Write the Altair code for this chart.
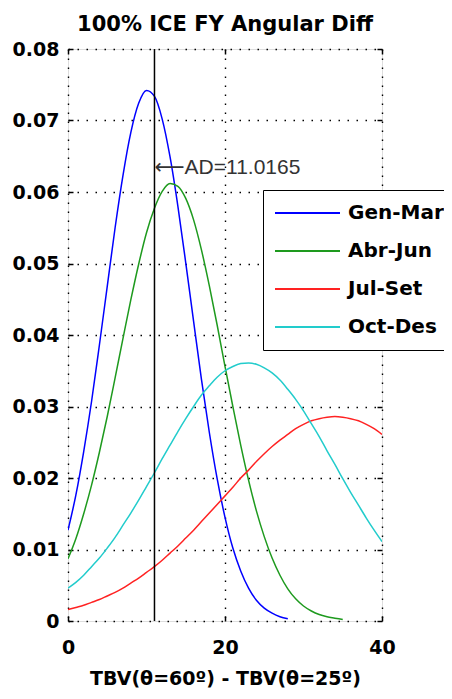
import altair as alt
import pandas as pd

# ---- data ----
series = ["Gen-Mar", "Abr-Jun", "Jul-Set", "Oct-Des"]
colors = ["#0000ff", "#1e9a1e", "#ff2222", "#22cccc"]

gen_mar = [0.0127, 0.0176, 0.0237, 0.0307, 0.0386, 0.0468, 0.0550, 0.0623, 0.0683, 0.0724,
           0.0742, 0.0734, 0.0702, 0.0649, 0.0580, 0.0501, 0.0419, 0.0338, 0.0264, 0.0199,
           0.0145, 0.0102, 0.0070, 0.0046, 0.0029, 0.0018, 0.0011, 0.0006, 0.0003]
abr_jun = [0.0087, 0.0115, 0.0150, 0.0190, 0.0236, 0.0286, 0.0340, 0.0395, 0.0449, 0.0499,
           0.0543, 0.0577, 0.0601, 0.0612, 0.0608, 0.0591, 0.0561, 0.0519, 0.0469, 0.0414,
           0.0356, 0.0300, 0.0246, 0.0197, 0.0154, 0.0118, 0.0088, 0.0064, 0.0045, 0.0031,
           0.0021, 0.0014, 0.0009, 0.0006, 0.0004, 0.0002]
jul_set = [0.0016, 0.0019, 0.0022, 0.0026, 0.0030, 0.0035, 0.0040, 0.0046, 0.0053, 0.0060,
           0.0068, 0.0076, 0.0085, 0.0095, 0.0105, 0.0116, 0.0127, 0.0139, 0.0151, 0.0163,
           0.0175, 0.0187, 0.0200, 0.0211, 0.0223, 0.0234, 0.0244, 0.0253, 0.0261, 0.0269,
           0.0275, 0.0280, 0.0283, 0.0285, 0.0286, 0.0285, 0.0283, 0.0280, 0.0275, 0.0269,
           0.0261]
oct_des = [0.0046, 0.0054, 0.0064, 0.0076, 0.0088, 0.0102, 0.0117, 0.0134, 0.0151, 0.0169,
           0.0188, 0.0207, 0.0227, 0.0246, 0.0265, 0.0283, 0.0300, 0.0316, 0.0329, 0.0341,
           0.0350, 0.0356, 0.0360, 0.0361, 0.0359, 0.0354, 0.0347, 0.0337, 0.0324, 0.0310,
           0.0294, 0.0276, 0.0258, 0.0238, 0.0219, 0.0199, 0.0180, 0.0162, 0.0144, 0.0127,
           0.0111]

x_ticks = [0, 20, 40]
y_ticks = [0, 0.01, 0.02, 0.03, 0.04, 0.05, 0.06, 0.07, 0.08]
ad_value = 11.0165
ad_label_y = 0.0634

title_text = "100% ICE FY Angular Diff"
x_title = "TBV(θ=60º) - TBV(θ=25º)"

# ---- build table ----
rows = []
for name, vals in zip(series, [gen_mar, abr_jun, jul_set, oct_des]):
    for i, v in enumerate(vals):
        rows.append({"x": i, "y": v, "series": name})
df = pd.DataFrame(rows)

ad_df = pd.DataFrame({"ad": [ad_value], "y": [ad_label_y], "label": [f"\u27f5AD={ad_value}"]})

xscale = alt.Scale(domain=[0, 40], nice=False, zero=False)
yscale = alt.Scale(domain=[0, 0.08], nice=False)

BF = "DejaVu Sans"
grid_kw = dict(grid=True, gridDash=[1.5, 7.5], gridColor="black", gridWidth=1.4, gridOpacity=1)
tick_kw = dict(ticks=True, tickSize=5, offset=-5, tickColor="black", tickWidth=1.5, domain=False)

lines = alt.Chart(df).mark_line(strokeWidth=1.5, interpolate="monotone", clip=True).encode(
    x=alt.X("x:Q", scale=xscale,
            axis=alt.Axis(values=x_ticks, title=x_title, labelPadding=17, labelFlush=False,
                          labelFont=BF, labelFontSize=19, labelFontWeight="bold", labelColor="black",
                          titleFont=BF, titleFontSize=19, titleFontWeight="bold", titleColor="black",
                          titlePadding=12, **grid_kw, **tick_kw)),
    y=alt.Y("y:Q", scale=yscale,
            axis=alt.Axis(values=y_ticks, title=None, labelPadding=9,
                          labelExpr="datum.value == 0 ? '0' : format(datum.value, '.2f')",
                          labelFont=BF, labelFontSize=19, labelFontWeight="bold", labelColor="black",
                          **grid_kw, **tick_kw)),
    color=alt.Color("series:N", scale=alt.Scale(domain=series, range=colors),
                    legend=alt.Legend(orient="none", legendX=195, legendY=141, title=None,
                                      symbolType="stroke", symbolSize=4225, symbolStrokeWidth=2,
                                      strokeColor="black", fillColor="white", padding=11,
                                      labelFont=BF, labelFontSize=20, labelFontWeight="bold",
                                      labelColor="black", labelOffset=7, clipHeight=24,
                                      rowPadding=14)),
)

mirror = alt.Chart(df).mark_line(opacity=0).encode(
    x=alt.X("x:Q", scale=xscale,
            axis=alt.Axis(orient="top", values=x_ticks, labels=False, grid=False, title=None, **tick_kw)),
    y=alt.Y("y:Q", scale=yscale,
            axis=alt.Axis(orient="right", values=y_ticks, labels=False, grid=False, title=None, **tick_kw)),
)

rule = alt.Chart(ad_df).mark_rule(color="black", strokeWidth=1.5).encode(
    x=alt.X("ad:Q", scale=xscale, axis=None)
)

label = alt.Chart(ad_df).mark_text(align="left", baseline="middle", font="Liberation Sans, DejaVu Sans",
                                   fontSize=21, color="#333333").encode(
    x=alt.X("ad:Q", scale=xscale, axis=None),
    y=alt.Y("y:Q", scale=yscale, axis=None),
    text="label:N",
)

chart = alt.layer(lines, mirror, rule, label).resolve_axis(
    x="independent", y="independent"
).properties(
    width=314, height=572,
    autosize="none",
    padding={"left": 60, "top": 41, "right": 62, "bottom": 70},
    title=alt.TitleParams(title_text, font=BF, fontSize=21, fontWeight="bold", color="black",
                          anchor="middle", frame="group", offset=14, baseline="bottom", dy=30),
).configure_view(
    stroke="black", strokeWidth=2.5
).configure_legend(
    strokeWidth=2
).configure(background="white")

chart.save("out.html", embed_options={"renderer": "svg", "actions": False})
